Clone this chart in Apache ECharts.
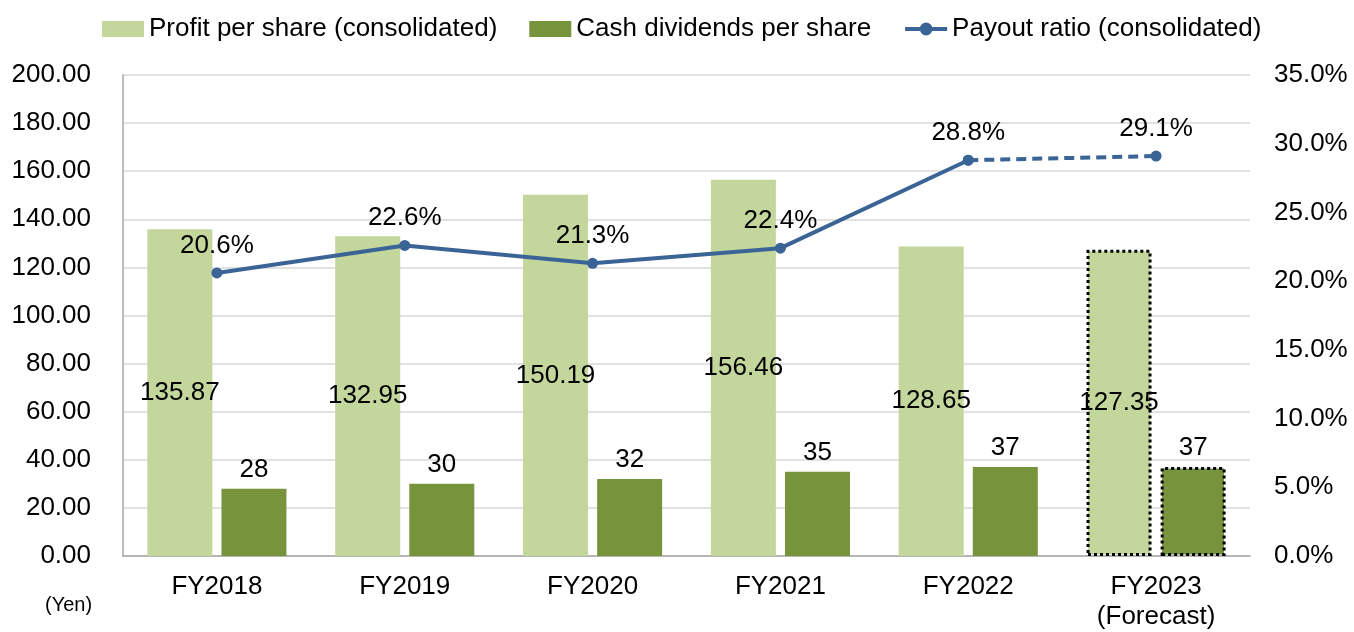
<!DOCTYPE html>
<html>
<head>
<meta charset="utf-8">
<script src="https://cdn.jsdelivr.net/npm/echarts@6/dist/echarts.min.js"></script>
<style>
  html, body { margin: 0; padding: 0; background: #fff; }
  #chart { width: 1354px; height: 632px; }
</style>
</head>
<body>
<div id="chart"></div>
<script>
// data
const categories = ['FY2018', 'FY2019', 'FY2020', 'FY2021', 'FY2022', 'FY2023\n(Forecast)']
const profitPerShare = [135.87, 132.95, 150.19, 156.46, 128.65, 127.35]
const dividendsPerShare = [28, 30, 32, 35, 37, 37]
const payoutActual = [20.6, 22.6, 21.3, 22.4, 28.8, '-']
const payoutForecast = ['-', '-', '-', '-', 28.8, 29.1]
const forecastIndex = 5

const font = '"Liberation Sans", Arial, sans-serif'
const fs = 26

// forecast bar gets a dotted black outline
function barData(values, color) {
    return values.map((v, i) => {
        if (i !== forecastIndex) return v
        return {
            value: v,
            itemStyle: { color: color, borderColor: '#000', borderWidth: 3, borderType: [3, 3] }
        }
    })
}

const chart = echarts.init(document.getElementById('chart'))
chart.setOption({
    animation: false,
    textStyle: { fontFamily: font },
    legend: {
        top: 11,
        left: 97,
        itemWidth: 42,
        itemHeight: 16,
        itemGap: 32,
        textStyle: { fontSize: fs, color: '#000', fontFamily: font },
        data: [
            { name: 'Profit per share (consolidated)', icon: 'rect' },
            { name: 'Cash dividends per share', icon: 'rect' },
            { name: 'Payout ratio (consolidated)', lineStyle: { width: 4 } }
        ]
    },
    grid: { left: 123, right: 104, top: 75, bottom: 76 },
    xAxis: {
        type: 'category',
        data: categories,
        axisLine: { lineStyle: { color: '#a6a6a6', width: 1.5 } },
        axisTick: { show: false },
        axisLabel: { margin: 16, fontSize: fs, color: '#000', lineHeight: 30, fontFamily: font }
    },
    yAxis: [{
        type: 'value',
        min: 0,
        max: 200,
        interval: 20,
        axisLine: { show: true, lineStyle: { color: '#a6a6a6', width: 1.5 } },
        axisTick: { show: false },
        splitLine: { lineStyle: { color: '#d9d9d9', width: 1.5 } },
        axisLabel: {
            margin: 32, fontSize: fs, color: '#000', fontFamily: font,
            formatter: v => v.toFixed(2)
        }
    }, {
        type: 'value',
        min: 0,
        max: 35,
        interval: 5,
        axisLine: { show: false },
        axisTick: { show: false },
        splitLine: { show: false },
        axisLabel: {
            margin: 24, fontSize: fs, color: '#000', fontFamily: font,
            formatter: v => v.toFixed(1) + '%'
        }
    }],
    series: [{
        name: 'Profit per share (consolidated)',
        type: 'bar',
        barWidth: 65,
        barGap: '14%',
        itemStyle: { color: '#c3d69b' },
        label: { show: true, position: 'inside', fontSize: fs, color: '#000', fontFamily: font },
        data: barData(profitPerShare, '#c3d69b')
    }, {
        name: 'Cash dividends per share',
        type: 'bar',
        barWidth: 65,
        barGap: '14%',
        itemStyle: { color: '#77933c' },
        label: { show: true, position: 'top', distance: 6, fontSize: fs, color: '#000', fontFamily: font },
        data: barData(dividendsPerShare, '#77933c')
    }, {
        name: 'Payout ratio (consolidated)',
        type: 'line',
        yAxisIndex: 1,
        symbol: 'circle',
        symbolSize: 11,
        itemStyle: { color: '#3b6496' },
        lineStyle: { color: '#3b6496', width: 4 },
        label: {
            show: true, position: 'top', distance: 9, fontSize: fs, color: '#000', fontFamily: font,
            formatter: p => p.value.toFixed(1) + '%'
        },
        z: 5,
        data: payoutActual
    }, {
        name: 'Payout forecast',
        type: 'line',
        yAxisIndex: 1,
        symbol: 'circle',
        symbolSize: 11,
        itemStyle: { color: '#3b6496' },
        lineStyle: { color: '#3b6496', width: 4, type: [10, 6] },
        label: {
            show: true, position: 'top', distance: 9, fontSize: fs, color: '#000', fontFamily: font,
            formatter: p => p.dataIndex === forecastIndex ? p.value.toFixed(1) + '%' : ''
        },
        z: 4,
        data: payoutForecast
    }],
    graphic: [{
        type: 'text',
        left: 45,
        top: 595,
        style: { text: '(Yen)', fontSize: 20, fill: '#000', fontFamily: font }
    }]
})
</script>
</body>
</html>
